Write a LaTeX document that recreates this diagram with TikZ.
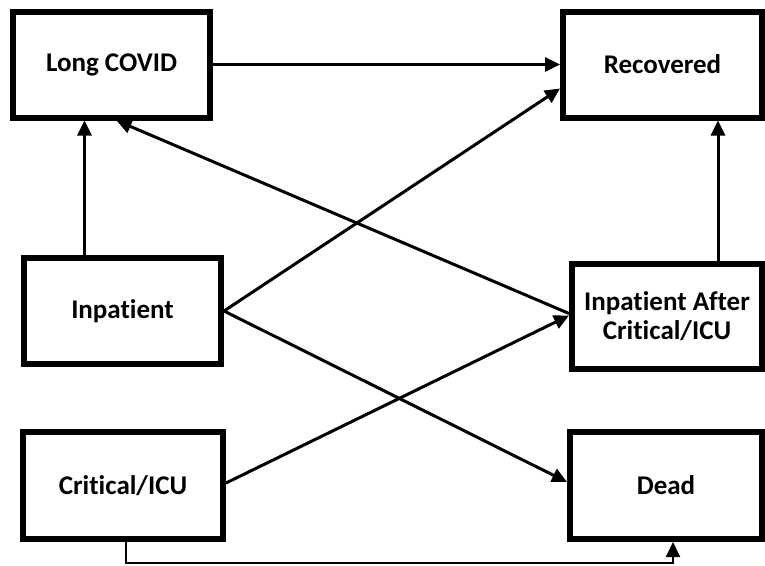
\documentclass[tikz,border=0pt]{standalone}
\usepackage{fontspec}
\setmainfont[Ligatures=NoCommon]{Carlito}
\usetikzlibrary{arrows.meta,calc}

\begin{document}
\begin{tikzpicture}[x=1pt,y=-1pt,
  box/.style={draw,line width=6pt,minimum width=197pt,minimum height=106pt,
    align=center,font=\fontsize{27}{29}\selectfont\bfseries},
  arr/.style={line width=3pt,-{Triangle[length=15pt,width=14pt]}}]
 \useasboundingbox (0,0) rectangle (765,565);
 \node[box] (LC) at (111.5,64.5) {Long COVID}; %左上
 \node[box,minimum width=199pt] (Rec) at (662.5,64.5) {Recovered}; %右上
 \node[box] (Inp) at (122.5,311) {Inpatient}; %左中
 \node[box,minimum width=190pt,minimum height=105pt] (IAC) at (667,316.5)
   {Inpatient After\\Critical/ICU}; %右中
 \node[box,minimum width=200pt,minimum height=107pt] (Crit) at (123,485.5) {Critical/ICU}; %左下
 \node[box,minimum width=192pt,minimum height=107pt] (Dead) at (666,485.5) {Dead}; %右下

 \draw[arr] (LC.east) -- (Rec.west);
 \draw[arr] ([xshift=-38pt]Inp.north) -- ([xshift=-38pt]Inp.north |- LC.south);
 \draw[arr] ([xshift=51pt]IAC.north) -- ([xshift=51pt]IAC.north |- Rec.south);
 \draw[arr] (Inp.east) -- ([yshift=-24pt]Rec.west);
 \draw[arr] (Inp.east) -- ([yshift=3.5pt]Dead.west);
 \draw[arr] ([yshift=3pt]IAC.west) -- ([xshift=5pt]LC.south);
 \draw[arr] ([yshift=2.5pt]Crit.east) -- ([yshift=1pt]IAC.west);
 \coordinate (low) at (0,563); %下の線
 \draw[arr,line width=2pt] ([xshift=3pt]Crit.south) -- ([xshift=3pt]Crit.south |- low)
   -| ([xshift=7pt]Dead.south);
\end{tikzpicture}
\end{document}
